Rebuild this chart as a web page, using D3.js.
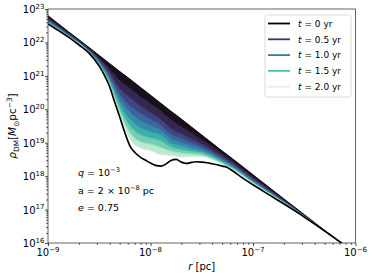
<!DOCTYPE html>
<html>
<head>
<meta charset="utf-8">
<script src="https://cdn.jsdelivr.net/npm/d3@7"></script>
<style>
  body { margin: 0; background: #fff; }
  svg text { font-family: "DejaVu Sans", sans-serif; fill: #000; }
</style>
</head>
<body>
<div id="chart"></div>
<script>
// log10 of r [pc] where the coloured profiles are read
var logR = [-9.0, -8.8, -8.6, -8.5, -8.4, -8.3, -8.2, -8.1, -8.0, -7.9, -7.8, -7.7,
            -7.6, -7.5, -7.4, -7.3, -7.2, -7.0, -6.8, -6.5, -6.13, -5.9];

// log10 rho_DM for t = 0 ... 2 yr (every 0.25 yr)
var rhoT000 = [22.80, 22.32, 21.85, 21.61, 21.37, 21.13, 20.90, 20.66, 20.42, 20.18, 19.94, 19.71, 19.47, 19.23, 18.99, 18.75, 18.52, 18.04, 17.56, 16.85, 15.97, 15.42];
var rhoT025 = [22.74, 22.28, 21.81, 21.53, 21.20, 20.86, 20.62, 20.37, 20.16, 19.94, 19.68, 19.48, 19.28, 19.08, 18.88, 18.66, 18.44, 17.97, 17.52, 16.83, 15.97, 15.42];
var rhoT050 = [22.69, 22.25, 21.78, 21.48, 21.08, 20.61, 20.34, 20.10, 19.89, 19.69, 19.41, 19.26, 19.10, 18.95, 18.77, 18.58, 18.38, 17.92, 17.48, 16.82, 15.97, 15.42];
var rhoT075 = [22.66, 22.23, 21.76, 21.43, 21.00, 20.45, 20.10, 19.87, 19.69, 19.52, 19.25, 19.12, 18.99, 18.87, 18.71, 18.52, 18.33, 17.88, 17.46, 16.81, 15.97, 15.42];
var rhoT100 = [22.64, 22.22, 21.74, 21.40, 20.93, 20.31, 19.90, 19.66, 19.51, 19.37, 19.12, 19.00, 18.90, 18.80, 18.66, 18.48, 18.30, 17.85, 17.44, 16.81, 15.97, 15.42];
var rhoT125 = [22.61, 22.20, 21.72, 21.37, 20.87, 20.18, 19.70, 19.45, 19.32, 19.22, 18.98, 18.90, 18.81, 18.74, 18.62, 18.44, 18.27, 17.83, 17.42, 16.80, 15.97, 15.42];
var rhoT150 = [22.59, 22.19, 21.71, 21.35, 20.81, 20.04, 19.50, 19.24, 19.14, 19.05, 18.87, 18.79, 18.74, 18.69, 18.57, 18.41, 18.24, 17.81, 17.41, 16.80, 15.97, 15.42];
var rhoT175 = [22.57, 22.18, 21.70, 21.32, 20.76, 19.93, 19.30, 19.03, 18.96, 18.86, 18.75, 18.69, 18.66, 18.63, 18.53, 18.38, 18.22, 17.79, 17.39, 16.79, 15.97, 15.42];
var rhoT200 = [22.56, 22.17, 21.69, 21.30, 20.72, 19.84, 19.10, 18.84, 18.76, 18.64, 18.62, 18.57, 18.58, 18.58, 18.49, 18.35, 18.20, 17.78, 17.39, 16.79, 15.97, 15.42];

var profileTimes = [0, 0.25, 0.5, 0.75, 1.0, 1.25, 1.5, 1.75, 2.0];
var profiles = [rhoT000, rhoT025, rhoT050, rhoT075, rhoT100, rhoT125, rhoT150, rhoT175, rhoT200];

// thick black profile
var blackLogR = [-9.0, -8.9, -8.8, -8.7, -8.6, -8.5, -8.45, -8.4, -8.35, -8.3, -8.25, -8.2, -8.15, -8.1,
                 -8.05, -8.0, -7.95, -7.9, -7.85, -7.8, -7.75, -7.7, -7.65, -7.6, -7.55, -7.5, -7.45,
                 -7.4, -7.3, -7.25, -7.2, -7.1, -7.0, -6.8, -6.5, -6.13, -6.0];
var blackLogRho = [22.55, 22.36, 22.16, 21.93, 21.68, 21.29, 21.02, 20.69, 20.22, 19.77, 19.30, 18.90, 18.70, 18.57,
                   18.48, 18.39, 18.32, 18.30, 18.36, 18.47, 18.50, 18.42, 18.38, 18.41, 18.43, 18.42, 18.40,
                   18.37, 18.30, 18.26, 18.16, 17.94, 17.74, 17.36, 16.78, 15.99, 15.70];

var legendTimes = [0, 0.5, 1.0, 1.5, 2.0];
var legendLabels = ['0', '0.5', '1.0', '1.5', '2.0'];
var xExps = [-9, -8, -7, -6];
var yExps = [16, 17, 18, 19, 20, 21, 22, 23];

// mako colormap stops
var makoPos = [0, 1/7, 2/7, 3/7, 4/7, 5/7, 6/7, 1];
var makoHex = ['#0b0405', '#2e1e3c', '#413d7b', '#37659e', '#348fa7', '#40b7ad', '#8bdab2', '#def5e5'];
var mako = d3.scaleLinear().domain(makoPos).range(makoHex).interpolate(d3.interpolateRgb);
var tMax = 2.0;

var W = 374, H = 277;
var pL = 48, pR = 355.5, pT = 9, pB = 243;

var svg = d3.select('#chart').append('svg')
    .attr('width', W).attr('height', H);

var x = d3.scaleLog().domain([1e-9, 1e-6]).range([pL, pR]);
var y = d3.scaleLog().domain([1e16, 1e23]).range([pB, pT]);

svg.append('defs').append('clipPath').attr('id', 'plotclip')
  .append('rect').attr('x', pL).attr('y', pT)
    .attr('width', pR - pL).attr('height', pB - pT);

var plot = svg.append('g').attr('clip-path', 'url(#plotclip)');

// bands between neighbouring profiles
for (var k = 0; k < profiles.length - 1; k++) {
    var upper = profiles[k], lower = profiles[k + 1];
    var band = d3.area()
        .x(function (d, i) { return x(Math.pow(10, logR[i])); })
        .y0(function (d, i) { return y(Math.pow(10, lower[i])); })
        .y1(function (d, i) { return y(Math.pow(10, upper[i])); })
        .curve(d3.curveMonotoneX);
    plot.append('path')
        .attr('d', band(logR))
        .attr('fill', mako((profileTimes[k] + profileTimes[k + 1]) / 2 / tMax))
        .attr('stroke', 'none');
}

var line = d3.line()
    .x(function (d) { return x(Math.pow(10, d[0])); })
    .y(function (d) { return y(Math.pow(10, d[1])); })
    .curve(d3.curveMonotoneX);

profiles.forEach(function (p, k) {
    plot.append('path')
        .attr('d', line(logR.map(function (r, i) { return [r, p[i]]; })))
        .attr('fill', 'none')
        .attr('stroke', mako(profileTimes[k] / tMax))
        .attr('stroke-width', 1);
});

plot.append('path')
    .attr('d', line(blackLogR.map(function (r, i) { return [r, blackLogRho[i]]; })))
    .attr('fill', 'none')
    .attr('stroke', '#000')
    .attr('stroke-width', 1.7);

// ticks
function mantissa(v) {
    return Math.round(v / Math.pow(10, Math.floor(Math.log10(v) + 1e-9)));
}
var xMinor = x.ticks().filter(function (v) { return mantissa(v) !== 1; });
var yMinor = y.ticks().filter(function (v) { return mantissa(v) !== 1; });
var xMajor = xExps.map(function (e) { return Math.pow(10, e); });
var yMajor = yExps.map(function (e) { return Math.pow(10, e); });

function tickAxis(axis) { return axis.tickFormat('').tickSizeOuter(0); }

var gx = svg.append('g').attr('transform', 'translate(0,' + pB + ')');
gx.append('g').call(tickAxis(d3.axisBottom(x).tickValues(xMajor).tickSize(3)));
gx.append('g').call(tickAxis(d3.axisBottom(x).tickValues(xMinor).tickSize(1.8)));
var gy = svg.append('g').attr('transform', 'translate(' + pL + ',0)');
gy.append('g').call(tickAxis(d3.axisLeft(y).tickValues(yMajor).tickSize(3)));
gy.append('g').call(tickAxis(d3.axisLeft(y).tickValues(yMinor).tickSize(1.8)));
svg.selectAll('.domain').remove();
svg.selectAll('.tick line').attr('stroke', '#000').attr('stroke-width', 0.7);

// frame
svg.append('rect')
    .attr('x', pL).attr('y', pT)
    .attr('width', pR - pL).attr('height', pB - pT)
    .attr('fill', 'none').attr('stroke', '#222').attr('stroke-width', 0.7);

// mixed text with italics / sub / superscripts
function rich(sel, parts, size) {
    var cur = 0;
    parts.forEach(function (p) {
        var off = p.sub ? 0.25 * size : (p.sup ? -0.42 * size : 0);
        var t = sel.append('tspan').text(p.s).attr('dy', off - cur);
        if (p.sub || p.sup) t.attr('font-size', size * 0.7);
        if (p.it) t.attr('font-style', 'italic');
        cur = off;
    });
}

xExps.forEach(function (e) {
    var t = svg.append('text')
        .attr('x', x(Math.pow(10, e))).attr('y', 256)
        .attr('font-size', 10).attr('text-anchor', 'middle');
    rich(t, [{s: '10'}, {s: '\u2212' + Math.abs(e), sup: true}], 10);
});

yExps.forEach(function (e) {
    var t = svg.append('text')
        .attr('x', 44.5).attr('y', y(Math.pow(10, e)) + 4)
        .attr('font-size', 10).attr('text-anchor', 'end');
    rich(t, [{s: '10'}, {s: String(e), sup: true}], 10);
});

// axis labels
var xl = svg.append('text')
    .attr('x', (pL + pR) / 2).attr('y', 270)
    .attr('font-size', 10).attr('text-anchor', 'middle');
rich(xl, [{s: 'r', it: true}, {s: ' [pc]'}], 10);

var yl = svg.append('text')
    .attr('transform', 'translate(16,' + ((pT + pB) / 2) + ') rotate(-90)')
    .attr('font-size', 10.5).attr('text-anchor', 'middle');
rich(yl, [{s: '\u03c1', it: true}, {s: 'DM', sub: true}, {s: '['}, {s: 'M', it: true},
          {s: '\u2299', sub: true}, {s: 'pc'}, {s: '\u22123', sup: true}, {s: ']'}], 10.5);

// parameters
var ann = [
    [{s: 'q', it: true}, {s: ' = 10'}, {s: '\u22123', sup: true}],
    [{s: 'a = 2 \u00d7 10'}, {s: '\u22128', sup: true}, {s: ' pc'}],
    [{s: 'e', it: true}, {s: ' = 0.75'}]
];
var annY = [176, 194, 211];
ann.forEach(function (parts, i) {
    rich(svg.append('text').attr('x', 78).attr('y', annY[i]).attr('font-size', 9.5), parts, 9.5);
});

// legend
var lg = svg.append('g');
lg.append('rect')
    .attr('x', 265).attr('y', 15).attr('width', 86).attr('height', 82)
    .attr('rx', 2).attr('fill', '#fff').attr('fill-opacity', 0.8)
    .attr('stroke', '#ccc').attr('stroke-width', 0.7);
legendTimes.forEach(function (t, i) {
    var ly = 23.5 + i * 15.8;
    lg.append('line')
        .attr('x1', 268).attr('x2', 290).attr('y1', ly).attr('y2', ly)
        .attr('stroke', t === 0 ? '#000' : mako(t / tMax)).attr('stroke-width', 1.8);
    rich(lg.append('text').attr('x', 298).attr('y', ly + 3.3).attr('font-size', 9),
         [{s: 't', it: true}, {s: ' = ' + legendLabels[i] + ' yr'}], 9);
});
</script>
</body>
</html>
